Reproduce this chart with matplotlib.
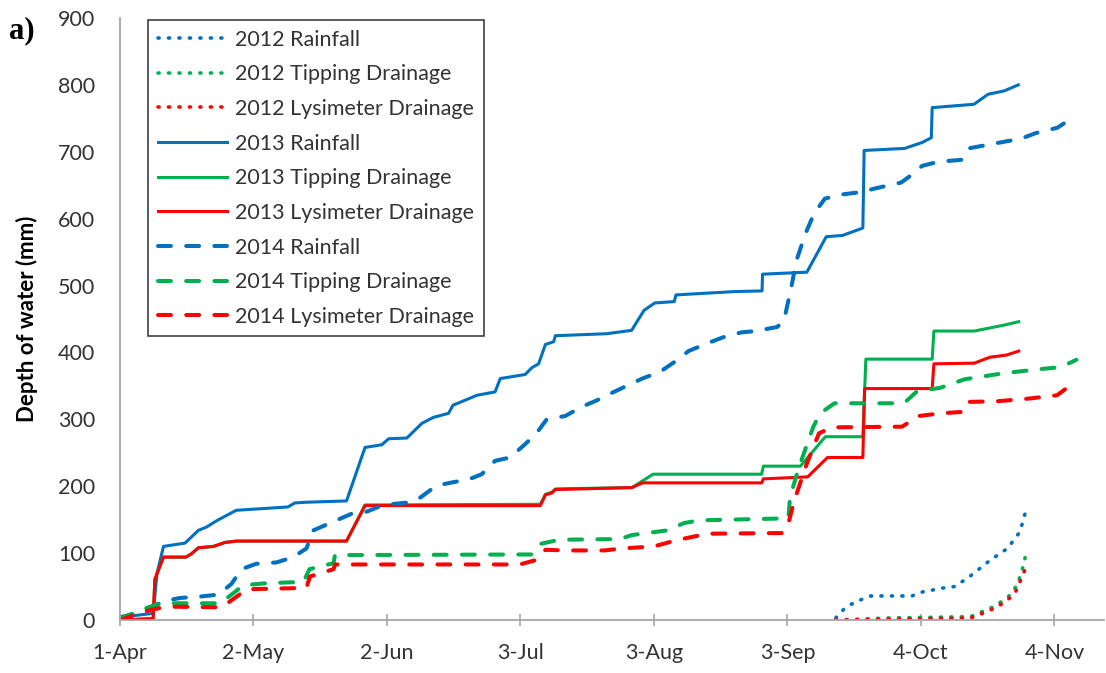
import matplotlib.pyplot as plt

# days after 1-Apr, cumulative depth (mm)
rain12_day = [166.2, 168.2, 170.7, 174.4, 183.9, 186.4, 191.3, 193.8, 197.1, 202, 206.1, 209, 210.2]
rain12_mm = [3, 17, 27, 36, 36, 42, 48, 50, 64, 89, 107, 132, 160]
tip12_day = [166.2, 178.2, 197.5, 199.6, 202.9, 206.2, 208.3, 209.5, 210.4]
tip12_mm = [0, 3, 5, 11, 20, 34, 52, 75, 99]
lys12_day = [166.2, 197.5, 199.6, 202.9, 205.8, 207.9, 209.5, 210.4]
lys12_mm = [0, 3, 8, 17, 28, 41, 65, 79]

rain13_day = [0, 7.7, 8.6, 10.1, 15.1, 18.2, 20.1, 22.6, 27, 39, 40.6, 43, 52.6, 56.9, 60.8,
              62.4, 66.6, 70.1, 72.8, 76.3, 77.3, 82.9, 87.1, 88.3, 94.1, 95.6, 97.2, 98.8,
              100.7, 101.1, 113, 118.8, 121.7, 124.2, 128.7, 129.1, 142.7, 149.1, 149.2,
              159.5, 164, 167.8, 172.5, 172.8, 182.2, 186.3, 188.4, 188.6, 198.3, 201.6,
              205.3, 208.6]
rain13_mm = [4, 10, 70, 110, 115, 134, 139, 149, 164, 169, 175, 176, 178, 258, 262,
             271, 272, 294, 303, 309, 321, 336, 341, 361, 367, 377, 383, 412,
             416, 425, 428, 433, 463, 474, 476, 486, 491, 492, 517,
             520, 573, 575, 586, 702, 705, 714, 721, 766, 771, 786,
             791, 800]
tip13_day = [0, 7.7, 8.1, 10.1, 15.3, 16.6, 18.2, 21.7, 24.4, 27.1, 52.6, 56.9, 97.6, 98.8,
             100.3, 101.1, 118.9, 123.8, 149, 149.4, 158, 163.8, 172.5, 173.2, 188.6, 189,
             198.4, 205.4, 208.7]
tip13_mm = [0, 2, 61, 94, 94, 99, 108, 110, 116, 118, 118, 172, 173, 188,
            191, 196, 198, 218, 218, 230, 230, 274, 274, 390, 390, 432,
            432, 441, 446]
lys13_day = [0, 7.7, 8.1, 10.1, 15.3, 16.6, 18.2, 21.7, 24.4, 27.1, 52.6, 56.9, 97.6, 98.8,
             100.3, 101.1, 118.9, 121.3, 149, 149.4, 159.7, 164.3, 172.5, 172.9, 188.6, 189,
             198.4, 200, 202.1, 205.8, 208.7]
lys13_mm = [0, 2, 61, 94, 94, 99, 108, 110, 116, 118, 118, 171, 171, 187,
            190, 195, 198, 205, 205, 211, 214, 243, 243, 346, 346, 383,
            384, 388, 393, 396, 402]

rain14_day = [0, 5, 8, 10.9, 14, 18.6, 22.8, 25.9, 28.2, 31.6, 36.3, 40.2, 43.3, 44.9, 54.2,
              57.3, 61.2, 67.3, 69.3, 73.5, 81.3, 84, 87.1, 90.6, 94.1, 96.8, 99.1, 103.4,
              107.3, 110.6, 114.7, 121.3, 125.4, 129.5, 132, 136.1, 140.2, 144.3, 147.6,
              152.6, 154.2, 155.9, 157.1, 159.2, 161.2, 163.7, 167.4, 172.4, 175.2, 181.4,
              183.1, 186.3, 190, 195.4, 197, 204.5, 209.4, 212.7, 217.7, 220.5, 221.5]
rain14_mm = [4, 12, 22, 29, 33, 35, 38, 54, 76, 84, 86, 94, 107, 134, 160,
             162, 172, 176, 181, 201, 211, 218, 238, 243, 263, 280, 300, 305,
             319, 328, 341, 361, 371, 389, 402, 413, 423, 430, 432,
             438, 448, 498, 538, 578, 608, 630, 636, 640, 645, 654,
             662, 679, 685, 688, 705, 714, 720, 728, 736, 748, 750]
tip14_day = [0, 6.6, 8, 10.9, 23.2, 26.3, 28.6, 34, 42.6, 44, 49.6, 49.9, 95.8, 97.8, 102,
             116, 118.9, 127.1, 131, 134.6, 155.2, 155.6, 157.7, 161, 162.6, 165.9, 179.1,
             182.2, 185.1, 190.4, 196.2, 205.3, 213.5, 218.4, 222.1]
tip14_mm = [2, 19, 22, 25, 25, 40, 52, 55, 57, 76, 85, 97, 98, 114, 120,
            121, 127, 134, 145, 149, 152, 184, 229, 289, 309, 324, 324,
            325, 342, 347, 360, 369, 375, 378, 389]
lys14_day = [0, 7, 10.9, 23.6, 27.1, 29.4, 43.3, 44.1, 49.6, 49.9, 92.8, 96.8, 98.8, 103.4,
             112.5, 116.6, 124, 129, 136.4, 153.7, 155, 156.6, 159.5, 162.3, 165.2, 181.6,
             185.5, 190.5, 195.4, 196.6, 203.6, 211, 217.6, 220.1, 221]
lys14_mm = [0, 15, 20, 19, 35, 46, 48, 65, 76, 83, 83, 90, 105, 104,
            104, 107, 110, 119, 129, 130, 139, 179, 234, 279, 288, 289,
            305, 309, 311, 326, 327, 331, 336, 348, 352]

tick_days = [0, 31, 62, 93, 124, 155, 186, 217]
tick_labels = ['1-Apr', '2-May', '2-Jun', '3-Jul', '3-Aug', '3-Sep', '4-Oct', '4-Nov']

blue = '#0070C0'
green = '#00B050'
red = '#FF0000'
dot = (0, (0.3, 2.6))
dash = (0, (3.2, 3.8))

plt.rcParams['font.family'] = ['Lato', 'DejaVu Sans']

fig = plt.figure(figsize=(11.06, 6.73), dpi=100)
ax = fig.add_axes([120 / 1106, 53 / 673, 984 / 1106, 602 / 673])

ax.plot(rain12_day, rain12_mm, color=blue, lw=2.6, ls=dot, dash_capstyle='round', label='2012 Rainfall')
ax.plot(tip12_day, tip12_mm, color=green, lw=2.6, ls=dot, dash_capstyle='round', label='2012 Tipping Drainage')
ax.plot(lys12_day, lys12_mm, color=red, lw=2.6, ls=dot, dash_capstyle='round', label='2012 Lysimeter Drainage')
ax.plot(rain13_day, rain13_mm, color=blue, lw=2.2, label='2013 Rainfall')
ax.plot(tip13_day, tip13_mm, color=green, lw=2.2, label='2013 Tipping Drainage')
ax.plot(lys13_day, lys13_mm, color=red, lw=2.2, label='2013 Lysimeter Drainage')
ax.plot(rain14_day, rain14_mm, color=blue, lw=2.9, ls=dash, dash_capstyle='round', label='2014 Rainfall')
ax.plot(tip14_day, tip14_mm, color=green, lw=2.9, ls=dash, dash_capstyle='round', label='2014 Tipping Drainage')
ax.plot(lys14_day, lys14_mm, color=red, lw=2.9, ls=dash, dash_capstyle='round', label='2014 Lysimeter Drainage')

ax.set_xlim(0, 228.5)
ax.set_ylim(0, 900)
ax.set_xticks(tick_days)
ax.set_xticklabels(tick_labels)
ax.set_yticks(range(0, 901, 100))

for s in ['top', 'right']:
    ax.spines[s].set_visible(False)
for s in ['left', 'bottom']:
    ax.spines[s].set_color('#a6a6a6')
    ax.spines[s].set_linewidth(1.3)

ax.tick_params(axis='x', direction='inout', length=9, width=1.2, color='#a6a6a6',
               labelsize=15.5, labelcolor='#333333', pad=12)
ax.tick_params(axis='y', length=0, labelsize=15.5, labelcolor='#333333', pad=18)

ax.set_ylabel('Depth of water (mm)', fontsize=16, fontweight='bold', color='black')
ax.yaxis.set_label_coords(-0.083, 0.5)

fig.text(0.008, 0.955, 'a)', fontsize=22, fontweight='bold', family='Liberation Serif', va='center')

leg = ax.legend(loc='upper left', bbox_to_anchor=(148 / 1106, 1 - 20 / 673),
                bbox_transform=fig.transFigure, borderaxespad=0, fontsize=15.5,
                handlelength=3.2, handletextpad=0.4, labelspacing=0.68,
                fancybox=False, framealpha=1, borderpad=0.45)
leg.get_frame().set_edgecolor('#404040')
leg.get_frame().set_linewidth(1.2)
for t in leg.get_texts():
    t.set_color('#333333')

plt.savefig('out.png', dpi=100)
